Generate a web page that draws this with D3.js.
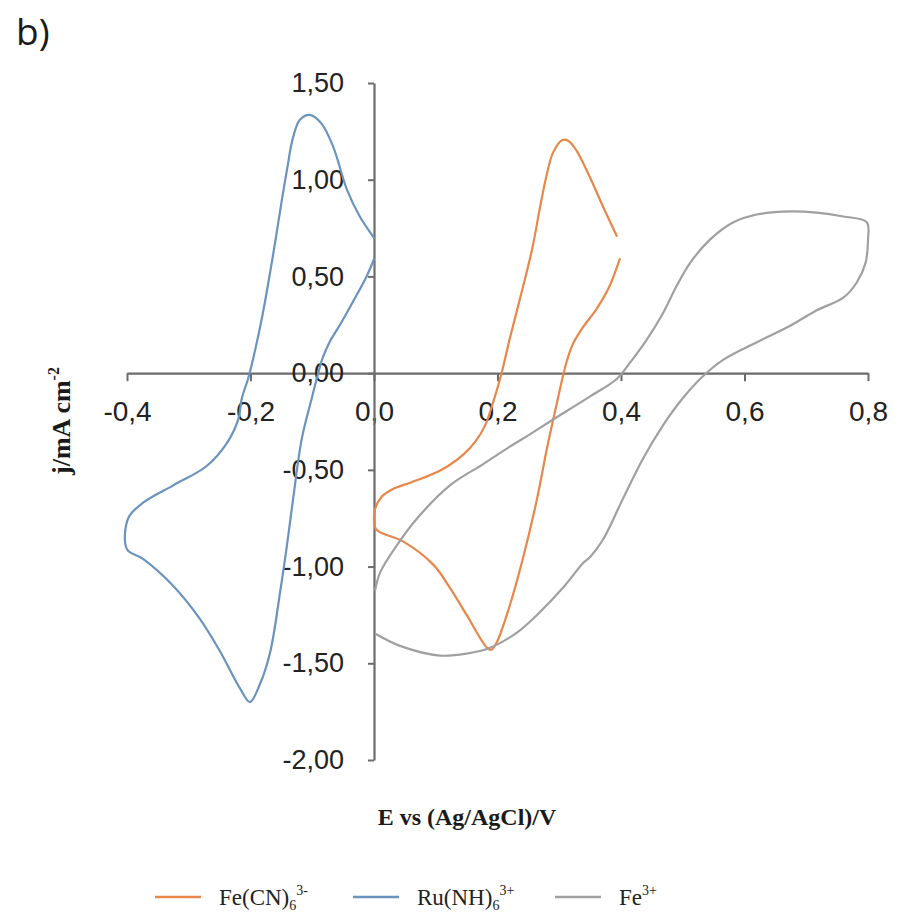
<!DOCTYPE html>
<html>
<head>
<meta charset="utf-8">
<script src="https://cdn.jsdelivr.net/npm/d3@7"></script>
<style>
  html, body { margin: 0; padding: 0; background: #ffffff; }
  svg { display: block; }
</style>
</head>
<body>
<svg id="chart" width="898" height="917"></svg>
<script>
// Cyclic voltammograms: potential E (V vs Ag/AgCl) and current density j (mA cm^-2)

// Fe(CN)6 3- trace
const feCnE = [0.393, 0.371, 0.350, 0.328, 0.315, 0.305, 0.290, 0.280, 0.269, 0.256, 0.236, 0.220, 0.207, 0.193, 0.180, 0.165, 0.145, 0.120, 0.096, 0.060, 0.030, 0.012, 0.002, 0.000, 0.004, 0.047, 0.096, 0.123, 0.150, 0.183, 0.190, 0.199, 0.220, 0.241, 0.264, 0.280, 0.293, 0.306, 0.312, 0.322, 0.339, 0.360, 0.380, 0.398];
const feCnJ = [0.71, 0.86, 1.01, 1.15, 1.20, 1.205, 1.14, 1.03, 0.86, 0.64, 0.38, 0.18, 0.005, -0.15, -0.27, -0.35, -0.42, -0.48, -0.52, -0.565, -0.60, -0.64, -0.70, -0.76, -0.81, -0.87, -0.99, -1.11, -1.25, -1.42, -1.43, -1.39, -1.20, -0.96, -0.65, -0.39, -0.20, -0.015, 0.06, 0.15, 0.24, 0.33, 0.44, 0.59];

// Ru(NH)6 3+ trace
const ruE = [0.000, -0.023, -0.044, -0.066, -0.085, -0.104, -0.120, -0.131, -0.141, -0.149, -0.163, -0.180, -0.196, -0.204, -0.214, -0.220, -0.238, -0.271, -0.325, -0.374, -0.398, -0.400, -0.374, -0.325, -0.282, -0.249, -0.217, -0.201, -0.185, -0.168, -0.152, -0.141, -0.131, -0.117, -0.100, -0.092, -0.083, -0.072, -0.055, -0.034, -0.012, 0.000];
const ruJ = [0.70, 0.81, 0.95, 1.17, 1.29, 1.335, 1.31, 1.22, 1.05, 0.90, 0.62, 0.31, 0.07, -0.03, -0.13, -0.24, -0.36, -0.48, -0.58, -0.67, -0.75, -0.91, -0.96, -1.10, -1.27, -1.44, -1.63, -1.70, -1.61, -1.44, -1.13, -0.89, -0.65, -0.34, -0.12, -0.02, 0.08, 0.16, 0.25, 0.37, 0.50, 0.59];

// Fe 3+ trace
const fe3E = [0.002, 0.010, 0.037, 0.070, 0.123, 0.177, 0.220, 0.253, 0.285, 0.350, 0.393, 0.415, 0.442, 0.468, 0.490, 0.512, 0.544, 0.582, 0.620, 0.663, 0.717, 0.760, 0.798, 0.800, 0.796, 0.782, 0.760, 0.717, 0.674, 0.620, 0.566, 0.533, 0.500, 0.468, 0.436, 0.403, 0.371, 0.350, 0.339, 0.306, 0.264, 0.232, 0.188, 0.150, 0.107, 0.042, 0.004];
const fe3J = [-1.12, -1.03, -0.89, -0.75, -0.58, -0.47, -0.38, -0.315, -0.25, -0.12, -0.03, 0.056, 0.175, 0.31, 0.45, 0.57, 0.69, 0.78, 0.82, 0.835, 0.83, 0.81, 0.78, 0.69, 0.57, 0.47, 0.39, 0.325, 0.245, 0.16, 0.07, -0.015, -0.13, -0.27, -0.44, -0.65, -0.86, -0.95, -0.98, -1.11, -1.25, -1.34, -1.42, -1.45, -1.46, -1.41, -1.35];

// Axis ticks and their printed labels
const xTicks = [-0.4, -0.2, 0.0, 0.2, 0.4, 0.6, 0.8];
const xTickLabels = ["-0,4", "-0,2", "0,0", "0,2", "0,4", "0,6", "0,8"];
const yTicks = [1.5, 1.0, 0.5, 0.0, -0.5, -1.0, -1.5, -2.0];
const yTickLabels = ["1,50", "1,00", "0,50", "0,00", "-0,50", "-1,00", "-1,50", "-2,00"];

// Series names (base, subscript, superscript) and colours
const seriesNames = [
  { base: "Fe(CN)", sub: "6", sup: "3-" },
  { base: "Ru(NH)", sub: "6", sup: "3+" },
  { base: "Fe", sub: "", sup: "3+" }
];
const seriesColors = ["#E8874A", "#6A93BE", "#A0A0A0"];

const series = [
  { E: feCnE, J: feCnJ },
  { E: ruE, J: ruJ },
  { E: fe3E, J: fe3J }
];

const svg = d3.select("#chart");
const axisColor = "#6b6b6b";
const sans = "'Liberation Sans', Arial, sans-serif";
const serif = "'Liberation Serif', 'Times New Roman', serif";

const x = d3.scaleLinear().domain([-0.4, 0.8]).range([127, 868]);
const y = d3.scaleLinear().domain([-2.0, 1.5]).range([760, 83]);

// Panel letter
svg.append("text")
  .attr("x", 16).attr("y", 45)
  .attr("font-family", "'Open Sans', 'Liberation Sans', sans-serif")
  .attr("font-size", 37)
  .attr("fill", "#1a1a1a")
  .text("b)");

// Horizontal axis through j = 0
const xAxis = d3.axisBottom(x)
  .tickValues(xTicks)
  .tickSize(8)
  .tickSizeOuter(0)
  .tickFormat((d, i) => xTickLabels[i]);

const gx = svg.append("g")
  .attr("transform", `translate(0,${y(0)})`)
  .call(xAxis);
gx.select(".domain").attr("stroke", axisColor).attr("stroke-width", 2.2);
gx.selectAll(".tick line").attr("stroke", axisColor).attr("stroke-width", 2);
gx.selectAll(".tick text")
  .attr("y", 48).attr("dy", 0)
  .attr("font-family", sans)
  .attr("font-size", 28)
  .attr("fill", "#222");

// Vertical axis through E = 0
const yAxis = d3.axisLeft(y)
  .tickValues(yTicks)
  .tickSize(6)
  .tickSizeOuter(0)
  .tickFormat((d, i) => yTickLabels[i]);

const gy = svg.append("g")
  .attr("transform", `translate(${x(0)},0)`)
  .call(yAxis);
gy.select(".domain").attr("stroke", axisColor).attr("stroke-width", 2.2);
gy.selectAll(".tick line").attr("stroke", axisColor).attr("stroke-width", 2);
gy.selectAll(".tick text")
  .attr("x", -30)
  .attr("font-family", sans)
  .attr("font-size", 27)
  .attr("fill", "#222");

svg.selectAll("g").attr("font-family", null);

// Traces
const line = d3.line()
  .x(d => x(d[0]))
  .y(d => y(d[1]))
  .curve(d3.curveCatmullRom.alpha(0.5));

series.forEach((s, i) => {
  const pts = s.E.map((e, k) => [e, s.J[k]]);
  svg.append("path")
    .datum(pts)
    .attr("d", line)
    .attr("fill", "none")
    .attr("stroke", seriesColors[i])
    .attr("stroke-width", 2.2)
    .attr("stroke-linejoin", "round")
    .attr("stroke-linecap", "round");
});

// Axis titles
const yTitle = svg.append("text")
  .attr("transform", "translate(70,421) rotate(-90)")
  .attr("text-anchor", "middle")
  .attr("font-family", serif)
  .attr("font-weight", "bold")
  .attr("font-size", 26)
  .attr("fill", "#1a1a1a");
yTitle.append("tspan").text("j/mA  cm");
yTitle.append("tspan").attr("font-size", 16).attr("dy", -11).text("-2");

svg.append("text")
  .attr("x", 467).attr("y", 825)
  .attr("text-anchor", "middle")
  .attr("font-family", serif)
  .attr("font-weight", "bold")
  .attr("font-size", 24)
  .attr("fill", "#1a1a1a")
  .text("E vs (Ag/AgCl)/V");

// Legend
const legendX = [155, 353, 555];
const legend = svg.append("g");
seriesNames.forEach((n, i) => {
  const lx = legendX[i];
  legend.append("line")
    .attr("x1", lx).attr("x2", lx + 46)
    .attr("y1", 897).attr("y2", 897)
    .attr("stroke", seriesColors[i])
    .attr("stroke-width", 2.6);
  const t = legend.append("text")
    .attr("x", lx + 64).attr("y", 905)
    .attr("font-family", serif)
    .attr("font-size", 23)
    .attr("fill", "#222");
  t.append("tspan").text(n.base);
  if (n.sub) t.append("tspan").attr("font-size", 14).attr("dy", 5).text(n.sub);
  t.append("tspan").attr("font-size", 14).attr("dy", n.sub ? -15 : -10).text(n.sup);
});
</script>
</body>
</html>
